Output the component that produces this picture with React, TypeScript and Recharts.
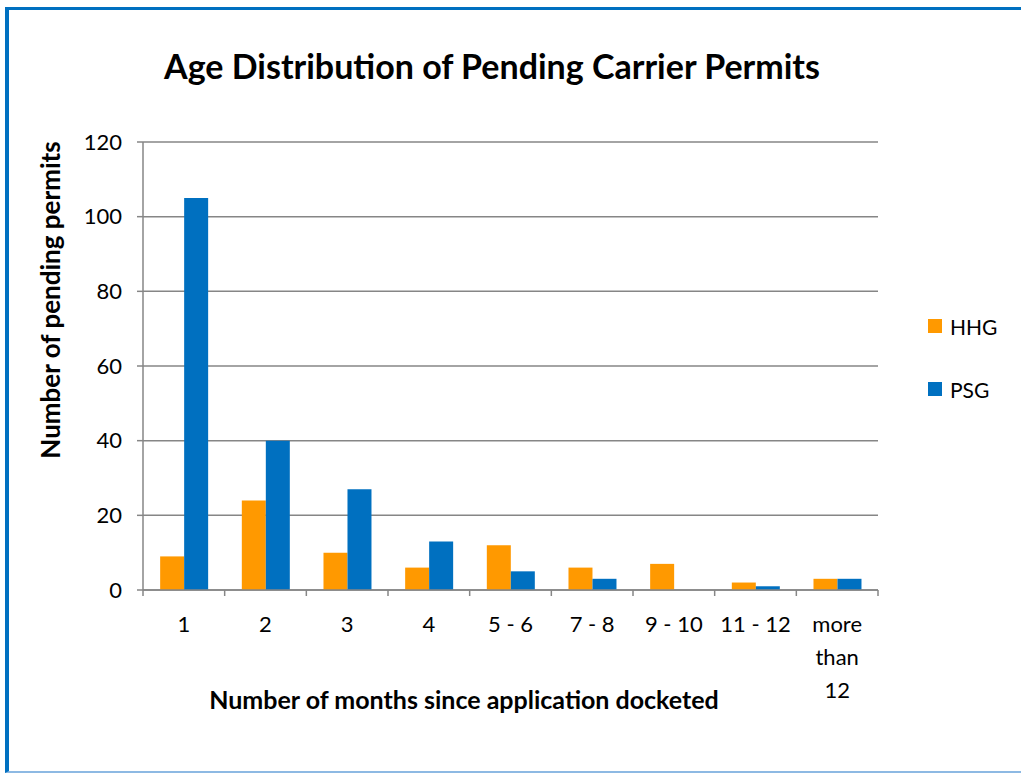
import { BarChart, Bar, XAxis, YAxis, CartesianGrid, Text } from 'recharts';

const categories = ['1', '2', '3', '4', '5 - 6', '7 - 8', '9 - 10', '11 - 12', 'more than 12'];
const hhg = [9, 24, 10, 6, 12, 6, 7, 2, 3];
const psg = [105, 40, 27, 13, 5, 3, 0, 1, 3];
const yTicks = [0, 20, 40, 60, 80, 100, 120];

const data = categories.map((c, i) => ({ name: c, HHG: hhg[i], PSG: psg[i] }));

const FONT = 'Lato, "Open Sans", sans-serif';
const AXIS = '#868686';
const PLOT_LEFT = 143;
const PLOT_RIGHT = 878;
const BAND = (PLOT_RIGHT - PLOT_LEFT) / categories.length;

const legendItems = [
  { name: 'HHG', color: '#FF9900' },
  { name: 'PSG', color: '#0070C0' },
];

function XTick(props: any) {
  const { x, y, payload, index } = props;
  const last = index === categories.length - 1;
  const label = String(payload.value);
  return (
    <g>
      <line x1={x - BAND / 2} x2={x - BAND / 2} y1={y - 8} y2={y - 2} stroke={AXIS} strokeWidth={1.5} />
      {last && <line x1={x + BAND / 2} x2={x + BAND / 2} y1={y - 8} y2={y - 2} stroke={AXIS} strokeWidth={1.5} />}
      <Text
        x={x}
        y={y + 18}
        width={label.length > 8 ? 45 : 80}
        textAnchor="middle"
        verticalAnchor="start"
        lineHeight={33}
        fontSize={22}
        fontFamily={FONT}
        fill="#000"
      >
        {label}
      </Text>
    </g>
  );
}

export default function App() {
  return (
    <div style={{ position: 'absolute', left: 0, top: 0, width: 1021, height: 773, background: '#fff', overflow: 'hidden' }}>
      <div
        style={{
          position: 'absolute',
          left: 5,
          top: 7,
          width: 1030,
          height: 761,
          borderLeft: '4px solid #0070C0',
          borderTop: '3px solid #0070C0',
          borderBottom: '2px solid #8DB9E3',
        }}
      />
      <div
        style={{
          position: 'absolute',
          left: 0,
          top: 45,
          width: 984,
          textAlign: 'center',
          fontFamily: FONT,
          fontWeight: 700,
          fontSize: 34,
          color: '#000',
        }}
      >
        Age Distribution of Pending Carrier Permits
      </div>
      <div
        style={{
          position: 'absolute',
          left: 0,
          top: 684,
          width: 928,
          textAlign: 'center',
          fontFamily: FONT,
          fontWeight: 700,
          fontSize: 25,
          color: '#000',
        }}
      >
        Number of months since application docketed
      </div>
      <div
        style={{
          position: 'absolute',
          left: 50 - 200,
          top: 300 - 16,
          width: 400,
          height: 32,
          lineHeight: '32px',
          textAlign: 'center',
          transform: 'rotate(-90deg)',
          fontFamily: FONT,
          fontWeight: 700,
          fontSize: 26,
          color: '#000',
        }}
      >
        Number of pending permits
      </div>
      <div style={{ position: 'absolute', left: 928, top: 313, fontFamily: FONT, fontSize: 21 }}>
        {legendItems.map((it, i) => (
          <div key={it.name} style={{ display: 'flex', alignItems: 'center', height: 26, marginBottom: i === 0 ? 37 : 0 }}>
            <span style={{ width: 14, height: 14, background: it.color, display: 'inline-block', marginRight: 8 }} />
            <span>{it.name}</span>
          </div>
        ))}
      </div>
      <div style={{ position: 'absolute', left: 0, top: 0 }}>
        <BarChart
          width={1021}
          height={773}
          data={data}
          margin={{ top: 142, right: 1021 - PLOT_RIGHT, bottom: 773 - 590 - 30, left: PLOT_LEFT - 60 }}
          barCategoryGap="21%"
          barGap={0}
        >
          <CartesianGrid vertical={false} stroke={AXIS} strokeWidth={1.5} />
          <XAxis
            dataKey="name"
            height={30}
            interval={0}
            axisLine={{ stroke: AXIS, strokeWidth: 1.5 }}
            tickLine={false}
            tick={<XTick />}
          />
          <YAxis
            width={60}
            domain={[0, 120]}
            ticks={yTicks}
            interval={0}
            axisLine={{ stroke: AXIS, strokeWidth: 1.5 }}
            tickLine={{ stroke: AXIS, strokeWidth: 1.5 }}
            tickSize={6}
            tickMargin={15}
            tick={{ fontSize: 22, fontFamily: FONT, fill: '#000' }}
          />
          <Bar dataKey="HHG" fill="#FF9900" isAnimationActive={false} />
          <Bar dataKey="PSG" fill="#0070C0" isAnimationActive={false} />
        </BarChart>
      </div>
    </div>
  );
}
